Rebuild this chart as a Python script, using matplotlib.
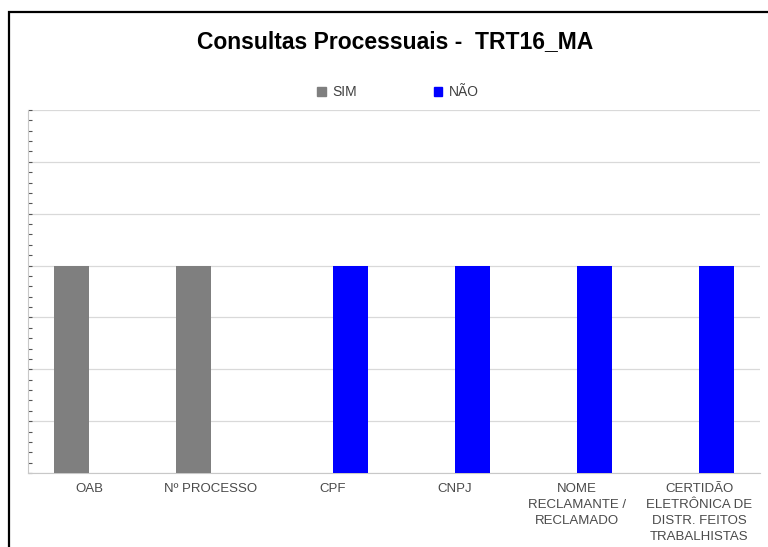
import numpy as np
import matplotlib.pyplot as plt
from matplotlib.patches import Rectangle, Patch
from matplotlib.ticker import MultipleLocator

categories = ['OAB', 'Nº PROCESSO', 'CPF', 'CNPJ', 'NOME\nRECLAMANTE /\nRECLAMADO',
              'CERTIDÃO\nELETRÔNICA DE\nDISTR. FEITOS\nTRABALHISTAS']
sim = [4, 4, 0, 0, 0, 0]
nao = [0, 0, 4, 4, 4, 4]

plt.rcParams['font.family'] = ['Liberation Sans', 'DejaVu Sans']

fig = plt.figure(figsize=(7.68, 5.47), dpi=100)
ax = fig.add_axes([28/768, 1 - 473/547, 732/768, 363/547])

x = np.arange(len(categories))
w = 0.287
ax.bar(x - w/2, sim, w, color='#7f7f7f', label='SIM', zorder=3)
ax.bar(x + w/2, nao, w, color='#0000ff', label='NÃO', zorder=3)

ax.set_xlim(-0.5, len(categories) - 0.5)
ax.set_ylim(0, 7)
ax.yaxis.set_major_locator(MultipleLocator(1))
ax.yaxis.set_minor_locator(MultipleLocator(0.2))
ax.grid(axis='y', color='#d9d9d9', lw=0.9, zorder=0)
ax.set_yticklabels([])
ax.tick_params(axis='y', which='both', direction='in', length=3, color='#555555', width=0.8)
ax.tick_params(axis='x', length=0, pad=7)
ax.set_xticks(x)
ax.set_xticklabels(categories, fontsize=9.5, color='#4a4a4a', linespacing=1.45, va='top')
for s in ['top', 'right']:
    ax.spines[s].set_visible(False)
ax.spines['left'].set_color('#c8c8c8')
ax.spines['bottom'].set_color('#c8c8c8')

fig.text(395/768, 1 - 42/547, 'Consultas Processuais -  TRT16_MA', ha='center', va='center',
         fontsize=16.5, fontweight='bold', color='black')

handles = [Patch(color='#7f7f7f', label='SIM'), Patch(color='#0000ff', label='NÃO')]
fig.legend(handles=handles, loc='center', bbox_to_anchor=(398/768, 1 - 92/547), ncol=2,
           frameon=False, fontsize=10, handlelength=0.6, handleheight=0.6,
           handletextpad=0.5, columnspacing=5.5, labelcolor='#404040')

fig.patches.append(Rectangle((9/768, -0.1), 1.1, 1.1 - 12/547, transform=fig.transFigure,
                             fill=False, ec='black', lw=1.6))

fig.savefig('out.png', dpi=100)
